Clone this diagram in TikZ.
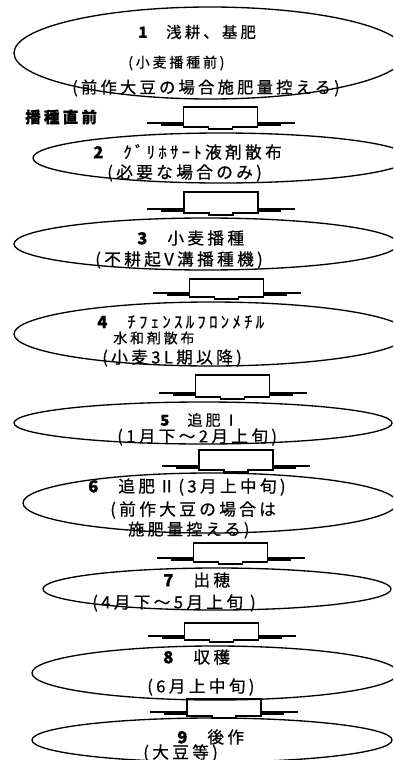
\documentclass[tikz,border=0pt]{standalone}
\usepackage{fontspec}
\newfontfamily\jp[LetterSpace=20,FakeBold=0.6]{Noto Sans CJK JP}
\usetikzlibrary{shapes.geometric}
\newcommand\fsz[1]{\fontsize{#1}{#1}\selectfont}
\tikzset{
	stage/.style={draw, ellipse, line width=1pt, inner sep=0},
	txt/.style={anchor=west, inner sep=0, font=\jp\fsz{12.5pt}},
	pics/hatlink/.style={code={
		\draw[line width=1pt] (-74,0) -- (-37,0) (37,0) -- (74,0);
		\draw[line width=1.7pt] (-60,1.5) -- (-37,1.5) (37,1.5) -- (60,1.5);
		\draw[line width=1pt] (-37,4) -- (-37,-#1) -- (37,-#1) -- (37,4) -- (12,4) -- (12,6) -- (-12,6) -- (-12,4) -- cycle;
	}}
}
\begin{document}
\begin{tikzpicture}[x=0.75pt,y=-0.75pt]
	\useasboundingbox (0,0) rectangle (393,760);
	\clip (0,0) rectangle (393,760);
	\fill[white] (0,0) rectangle (393,760);
	% stages
	\node[stage, minimum width=294pt, minimum height=69pt] (s1) at (210,53) {};
	\node[stage, minimum width=282pt, minimum height=37.5pt] (s2) at (221,158) {};
	\node[stage, minimum width=288pt, minimum height=39pt] (s3) at (206,244) {};
	\node[stage, minimum width=295.5pt, minimum height=48pt] (s4) at (211,334) {};
	\node[stage, minimum width=283.5pt, minimum height=31.5pt] (s5) at (203,423) {};
	\node[stage, minimum width=280.5pt, minimum height=45pt] (s6) at (210,503) {};
	\node[stage, minimum width=261pt, minimum height=31.5pt] (s7) at (217,589) {};
	\node[stage, minimum width=274.5pt, minimum height=40.5pt] (s8) at (215,673) {};
	\node[stage, minimum width=270pt, minimum height=33pt] (s9) at (212,740) {};
	% links
	\coordinate (h1) at (220.5,123);
	\coordinate (h2) at (221,209);
	\coordinate (h3) at (226.5,293);
	\coordinate (h4) at (232.5,393);
	\coordinate (h5) at (236,466);
	\coordinate (h6) at (230.5,558);
	\coordinate (h7) at (221.5,636);
	\coordinate (h8) at (224,712);
	\pic at (h1) {hatlink=16};
	\pic at (h2) {hatlink=17};
	\pic at (h3) {hatlink=14};
	\pic at (h4) {hatlink=18};
	\pic at (h5) {hatlink=16};
	\pic at (h6) {hatlink=15};
	\pic at (h7) {hatlink=13};
	\pic at (h8) {hatlink=13};
	% texts
	\node[txt, font=\jp\fsz{11.6pt}] (t1a) at (138,32) {{\bfseries 1}　浅耕、基肥};
	\node[txt, font=\jp\fsz{10.5pt}] (t1b) at (128,63) {(小麦播種前)};
	\node[txt, font=\jp\fsz{12.2pt}] (t1c) at (72,88) {(前作大豆の場合施肥量控える)};
	\node[txt, font=\jp\bfseries\fsz{11.7pt}] (pre) at (25,117) {播種直前};
	\node[txt] (t2a) at (93,152) {{\bfseries 2}　ｸﾞﾘﾎｻｰﾄ液剤散布};
	\node[txt] (t2b) at (107,173) {(必要な場合のみ)};
	\node[txt] (t3a) at (137,238) {{\bfseries 3}　小麦播種};
	\node[txt] (t3b) at (95,260) {(不耕起V溝播種機)};
	\node[txt] (t4a) at (97,322) {{\bfseries 4}　ﾁﾌｪﾝｽﾙﾌﾛﾝﾒﾁﾙ};
	\node[txt, font=\jp\fsz{10.5pt}] (t4b) at (113,338) {水和剤散布};
	\node[txt] (t4c) at (102,358) {(小麦3L期以降)};
	\node[txt, font=\jp\fsz{11.3pt}] (t5a) at (160,420) {{\bfseries 5}　追肥Ⅰ};
	\node[txt] (t5b) at (117,437) {(1月下～2月上旬)};
	\node[txt] (t6a) at (88,487) {{\bfseries 6}　追肥Ⅱ(3月上中旬)};
	\node[txt] (t6b) at (110,510) {(前作大豆の場合は};
	\node[txt, font=\jp\fsz{12.1pt}] (t6c) at (128,530) {施肥量控える)};
	\node[txt] (t7a) at (163,580) {{\bfseries 7}　出穂};
	\node[txt] (t7b) at (92,603) {(4月下～5月上旬 )};
	\node[txt] (t8a) at (163,657) {{\bfseries 8}　収穫};
	\node[txt] (t8b) at (147,687) {(6月上中旬)};
	\node[txt] (t9a) at (177,737) {{\bfseries 9}　後作};
	\node[txt] (t9b) at (143,753) {(大豆等)};
\end{tikzpicture}
\end{document}
